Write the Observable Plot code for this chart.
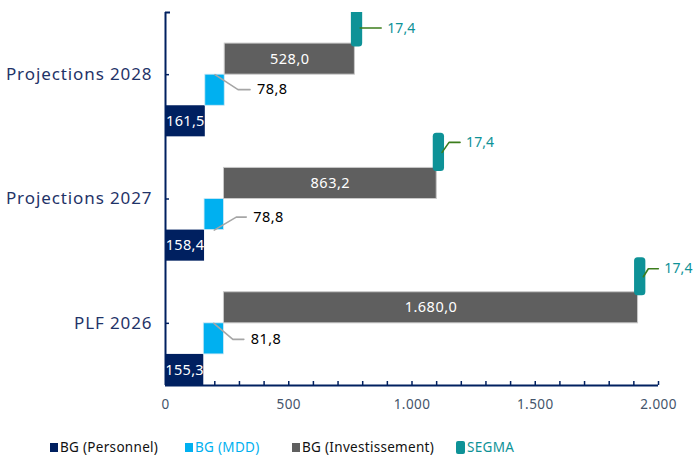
<!DOCTYPE html>
<html>
<head>
<meta charset="utf-8">
<script src="https://cdn.jsdelivr.net/npm/d3@7"></script>
<script src="https://cdn.jsdelivr.net/npm/@observablehq/plot@0.6"></script>
<style>
  html, body { margin: 0; padding: 0; background: #fff; }
  body { width: 694px; height: 458px; overflow: hidden; font-family: "Noto Sans", sans-serif; }
  #legend { position: relative; height: 38px; font-size: 13.5px; letter-spacing: 0.3px; }
  .item { position: absolute; top: 18px; display: flex; align-items: center; white-space: nowrap; }
  .sw { width: 8px; height: 9px; margin-right: 2px; }
</style>
</head>
<body>
<div id="chart"></div>
<div id="legend"></div>
<script>
// ---- data ----
const categories = ["PLF 2026", "Projections 2027", "Projections 2028"];
const personnel = [155.3, 158.4, 161.5];
const mdd = [81.8, 78.8, 78.8];
const investissement = [1680.0, 863.2, 528.0];
const segma = [17.4, 17.4, 17.4];
const xTickLabels = [0, 500, 1000, 1500, 2000];
const seriesNames = ["BG (Personnel)", "BG (MDD)", "BG (Investissement)", "SEGMA"];

// ---- layout / style ----
const colors = {navy: "#002060", mdd: "#00b0f0", inv: "#5f5f5f", segma: "#0e9297", leaderMdd: "#a6a6a6", leaderSegma: "#3c7d1c", axisText: "#44546a"};
const W = 694, H = 420, mL = 165, mR = 36, mT = 12, mB = 35;
const kx = 2000 / (W - mL - mR);   // data units per px (x)
const ky = 3 / (H - mT - mB);      // data units per px (y)
// leader offsets in pixels per category
const mddLeader = [{from: "top", dx: 19, dy: 16, h: 11}, {from: "bottom", dx: 22, dy: -13, h: 10}, {from: "top", dx: 23, dy: 15, h: 12}];
const segmaLeader = [{dx: 5, dy: -8, h: 10}, {dx: 7, dy: -10, h: 11}, {dx: 0, dy: 0, h: 21}];

const loc = d3.formatLocale({decimal: ",", thousands: ".", grouping: [3], currency: ["", ""]});
const f1 = loc.format(",.1f");
const f0 = loc.format(",.0f");

const rows = categories.map((cat, i) => ({
  cat, i, p: personnel[i], m: mdd[i], inv: investissement[i], s: segma[i],
  a0: 0, a1: personnel[i],
  b0: personnel[i], b1: personnel[i] + mdd[i],
  c0: personnel[i] + mdd[i], c1: personnel[i] + mdd[i] + investissement[i],
  d0: personnel[i] + mdd[i] + investissement[i], d1: personnel[i] + mdd[i] + investissement[i] + segma[i]
}));

// leader lines
const mddPts = [], mddLabels = [], segPts = [], segLabels = [];
rows.forEach((r, k) => {
  const L = mddLeader[k];
  const x0 = (r.b0 + r.b1) / 2;
  const y0 = L.from === "top" ? r.i + 0.5 : r.i + 0.25;
  const x1 = x0 + L.dx * kx, y1 = y0 - L.dy * ky, x2 = x1 + L.h * kx;
  mddPts.push({cat: r.cat, x: x0, y: y0}, {cat: r.cat, x: x1, y: y1}, {cat: r.cat, x: x2, y: y1});
  mddLabels.push({x: x2 + 7 * kx, y: y1, t: f1(r.m)});
  const S = segmaLeader[k];
  const sx0 = r.d1 + 1 * kx, sy0 = r.i + 0.875;
  const sx1 = sx0 + S.dx * kx, sy1 = sy0 - S.dy * ky, sx2 = sx1 + S.h * kx;
  segPts.push({cat: r.cat, x: sx0, y: sy0}, {cat: r.cat, x: sx1, y: sy1}, {cat: r.cat, x: sx2, y: sy1});
  segLabels.push({x: sx2 + 6 * kx, y: sy1, t: f1(r.s)});
});

const chart = Plot.plot({
  width: W, height: H,
  marginLeft: mL, marginRight: mR, marginTop: mT, marginBottom: mB,
  style: {fontFamily: "Noto Sans, sans-serif", background: "white", overflow: "visible"},
  x: {type: "linear", domain: [0, 2000], axis: null},
  y: {type: "linear", domain: [0, 3], axis: null},
  marks: [
    Plot.rect(rows, {x1: "a0", x2: "a1", y1: d => d.i, y2: d => d.i + 0.25, fill: colors.navy}),
    Plot.rect(rows, {x1: "b0", x2: "b1", y1: d => d.i + 0.25, y2: d => d.i + 0.5, fill: colors.mdd, stroke: "#cfe9f5", strokeWidth: 0.8}),
    Plot.rect(rows, {x1: "c0", x2: "c1", y1: d => d.i + 0.5, y2: d => d.i + 0.75, fill: colors.inv, stroke: "#c9c9c9", strokeWidth: 1}),
    Plot.rect(rows, {x1: "d0", x2: "d1", y1: d => d.i + 0.75, y2: d => d.i + 1, fill: colors.segma, stroke: colors.segma, strokeWidth: 7, strokeLinejoin: "round", clip: true}),
    // value labels
    Plot.text(rows, {x: d => (d.a0 + d.a1) / 2, y: d => d.i + 0.125, text: d => f1(d.p), fill: "white", fontSize: 14.5}),
    Plot.text(rows, {x: d => (d.c0 + d.c1) / 2, y: d => d.i + 0.625, text: d => f1(d.inv), fill: "white", fontSize: 14.5}),
    Plot.line(mddPts, {x: "x", y: "y", z: "cat", stroke: colors.leaderMdd, strokeWidth: 1.6}),
    Plot.text(mddLabels, {x: "x", y: "y", text: "t", textAnchor: "start", fill: "#000", fontSize: 14.5}),
    Plot.line(segPts, {x: "x", y: "y", z: "cat", stroke: colors.leaderSegma, strokeWidth: 1.6}),
    Plot.text(segLabels, {x: "x", y: "y", text: "t", textAnchor: "start", fill: colors.segma, fontSize: 14}),
    // axes
    Plot.ruleX([0], {y1: 0, y2: 3, stroke: colors.navy, strokeWidth: 2}),
    Plot.ruleY([0], {x1: 0, x2: 2000, stroke: colors.navy, strokeWidth: 2}),
    Plot.ruleX(d3.range(100, 2001, 100), {y1: 0, y2: 4 * ky, stroke: colors.navy, strokeWidth: 1.5}),
    Plot.ruleY(rows, {y: d => d.i + 0.5, x1: 0, x2: 4 * kx, stroke: colors.navy, strokeWidth: 1.5}),
    Plot.ruleY([3], {x1: 0, x2: 5 * kx, stroke: colors.navy, strokeWidth: 2}),
    Plot.text(xTickLabels, {x: d => d, y: 0, dy: 19, text: d => f0(d), fill: colors.axisText, fontSize: 13.5}),
    Plot.text(rows, {x: 0, y: d => d.i + 0.5, dx: -13, text: "cat", textAnchor: "end", fill: "#1f3368", fontSize: 17})
  ]
});
// letter spacing for the text marks (Gotham-like wide look)
const textGroups = chart.querySelectorAll('g[aria-label="text"]');
const spacing = [0.3, 0.5, 0.4, 0.1, 0.4, 0.9];
textGroups.forEach((g, k) => { g.style.letterSpacing = (spacing[k] ?? 0.3) + "px"; });
document.getElementById("chart").appendChild(chart);

// legend
const legendItems = [
  {name: seriesNames[0], sw: colors.navy, text: "#111", left: 50, r: 0},
  {name: seriesNames[1], sw: colors.mdd, text: colors.mdd, left: 185, r: 0},
  {name: seriesNames[2], sw: colors.inv, text: "#111", left: 292, r: 0},
  {name: seriesNames[3], sw: colors.segma, text: colors.segma, left: 456, r: 2}
];
const lg = document.getElementById("legend");
legendItems.forEach(it => {
  const d = document.createElement("div");
  d.className = "item";
  d.style.left = it.left + "px";
  const s = document.createElement("span");
  s.className = "sw";
  s.style.background = it.sw;
  if (it.r) { s.style.borderRadius = it.r + "px"; s.style.width = "9px"; s.style.height = "13px"; }
  const t = document.createElement("span");
  t.textContent = it.name;
  t.style.color = it.text;
  d.appendChild(s); d.appendChild(t);
  lg.appendChild(d);
});
</script>
</body>
</html>
